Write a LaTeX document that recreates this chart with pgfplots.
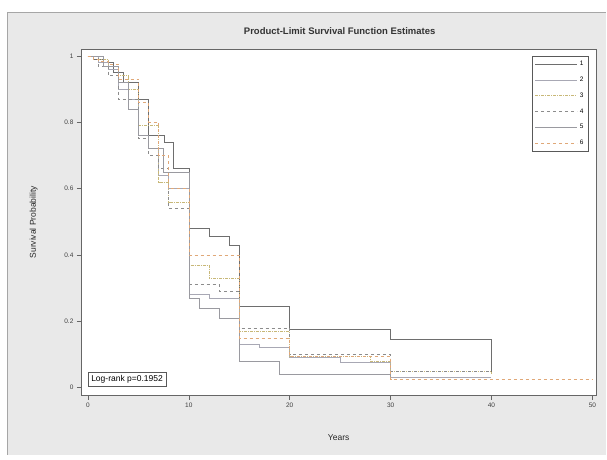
\documentclass[border=0pt]{standalone}
\usepackage{pgfplots}
\pgfplotsset{compat=1.18}
\usetikzlibrary{backgrounds}
\usepackage{fontspec}
\setmainfont{Liberation Sans}
\definecolor{panel}{HTML}{E9E9E9}
\definecolor{c1}{HTML}{6E6E6E}
\definecolor{c2}{HTML}{A8A8B4}
\definecolor{c3}{HTML}{C8B878}
\definecolor{c4}{HTML}{8C8C8C}
\definecolor{c5}{HTML}{9A9AA0}
\definecolor{c6}{HTML}{E0A878}
\begin{document}
\begin{tikzpicture}
\begin{axis}[
  name=ax, at={(0pt,0pt)}, anchor=south west,
  scale only axis, width=516pt, height=347pt,
  xmin=-0.7, xmax=50.4, ymin=-0.024, ymax=1.021,
  axis background/.style={fill=white},
  axis line style={gray!80!black, line width=0.8pt},
  xtick={0,10,20,30,40,50}, ytick={0,0.2,0.4,0.6,0.8,1},
  yticklabels={0,0.2,0.4,0.6,0.8,1},
  tick align=outside, tick style={gray!80!black, line width=0.6pt}, major tick length=4pt,
  xtick pos=bottom, ytick pos=left,
  ticklabel style={font=\fontsize{6.5}{7}\selectfont, text=black!75},
  /pgf/number format/assume math mode=true,
  xlabel={Years}, ylabel={Survival Probability},
  label style={font=\fontsize{8.5}{9}\selectfont, text=black!85},
  xlabel style={yshift=-20pt},
  ylabel style={yshift=20pt},
  legend style={at={(0.985,0.98)}, anchor=north east, font=\fontsize{6.5}{7}\selectfont,
    draw=gray!70!black, line width=0.6pt, fill=white, inner sep=3pt, row sep=5.8pt},
  legend cell align=left,
  legend image code/.code={\draw[#1] (0pt,0pt) -- (42pt,0pt);},
  legend image post style={line width=0.7pt},
  every axis plot/.append style={const plot, line width=0.7pt},
]
\addplot[c1] coordinates {(0,1)(0.5,0.99)(1.5,0.98)(2.5,0.95)(3.5,0.92)(5,0.87)(6,0.76)(7.6,0.74)(8.5,0.66)(10,0.48)(12,0.455)(14,0.43)(15,0.245)(20,0.175)(30,0.145)(40,0.04)(40,0.04)};
\addlegendentry{1}
\addplot[c2] coordinates {(0,1)(1,0.98)(2,0.96)(3,0.90)(4,0.87)(5,0.76)(6,0.72)(7,0.64)(8,0.60)(10,0.28)(12,0.27)(15,0.13)(17,0.12)(20,0.09)(25,0.075)(30,0.03)(40,0.03)};
\addlegendentry{2}
\addplot[c3, dash pattern=on 3pt off 1pt on 1pt off 1pt] coordinates {(0,1)(1,0.99)(2,0.97)(3,0.94)(4,0.90)(5,0.79)(7,0.62)(8,0.56)(10,0.37)(12,0.33)(15,0.17)(20,0.095)(28,0.08)(30,0.05)(40,0.04)};
\addlegendentry{3}
\addplot[c4, dashed] coordinates {(0,1)(1,0.97)(2,0.94)(3,0.87)(5,0.75)(6,0.70)(7,0.66)(8,0.54)(10,0.31)(13,0.29)(15,0.18)(20,0.10)(30,0.05)(40,0.05)};
\addlegendentry{4}
\addplot[c5] coordinates {(0,1)(1.5,0.97)(3,0.92)(4,0.84)(5,0.76)(6,0.72)(7.5,0.65)(10,0.27)(11,0.24)(13,0.21)(15,0.08)(19,0.04)(30,0.03)(30,0.03)};
\addlegendentry{5}
\addplot[c6, dashed] coordinates {(0,1)(0.5,0.99)(1,0.985)(2,0.975)(3,0.93)(5,0.86)(6,0.80)(7,0.70)(8,0.60)(10,0.40)(15,0.15)(20,0.095)(30,0.025)(50,0.025)};
\addlegendentry{6}
\node[draw=gray!70!black, line width=0.6pt, fill=white, anchor=south west, font=\fontsize{8.5}{9}\selectfont, inner sep=3pt] at (axis cs:0.0,0.002) {Log-rank p=0.1952};
\end{axis}
\begin{scope}[on background layer]
\fill[panel] ([xshift=-74pt,yshift=-59pt]ax.south west) rectangle ([xshift=526pt,yshift=384pt]ax.south west);
\draw[gray!70, line width=1.2pt] ([xshift=-73.4pt,yshift=-59pt]ax.south west) -- ([xshift=-73.4pt,yshift=383.4pt]ax.south west) -- ([xshift=526pt,yshift=383.4pt]ax.south west);
\end{scope}
\node[font=\bfseries\fontsize{9.5}{10}\selectfont, text=black!80] at ([xshift=259pt,yshift=365pt]ax.south west) {Product-Limit Survival Function Estimates};
\path[use as bounding box] ([xshift=-81pt,yshift=-64pt]ax.south west) rectangle ([xshift=526pt,yshift=396pt]ax.south west);
\end{tikzpicture}
\end{document}
